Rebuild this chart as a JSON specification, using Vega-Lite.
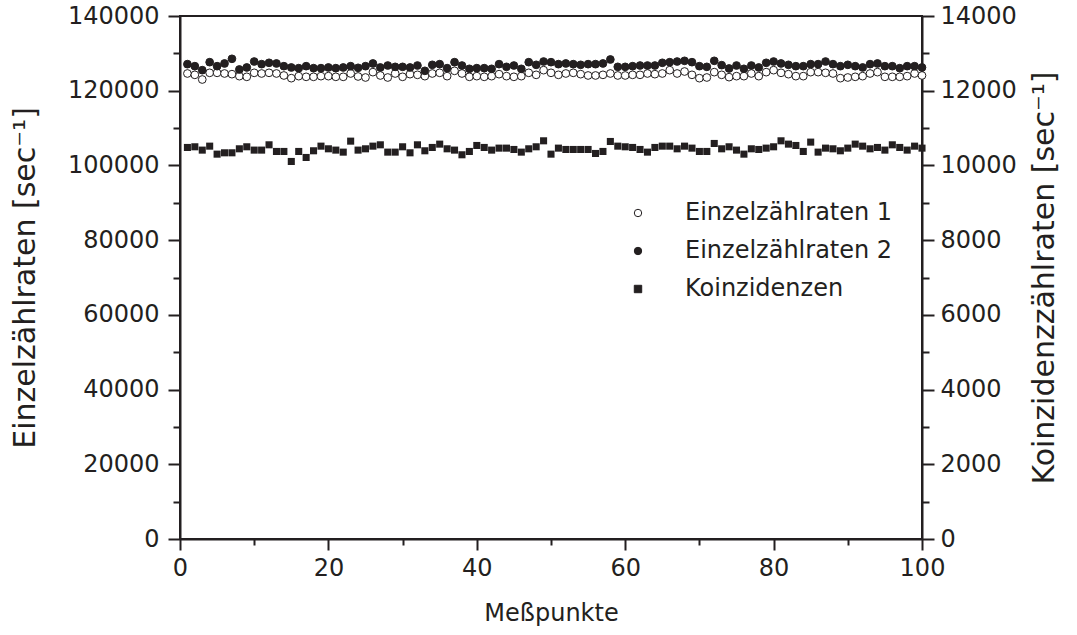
{
  "$schema": "https://vega.github.io/schema/vega-lite/v6.json",
  "width": 742,
  "height": 523,
  "autosize": "none",
  "padding": {"left": 180, "top": 16, "right": 155, "bottom": 96},
  "background": "white",
  "config": {
    "font": "DejaVu Sans",
    "view": {"stroke": "#231f20", "strokeWidth": 2},
    "axis": {
      "grid": false,
      "domainColor": "#231f20",
      "domainWidth": 2,
      "tickColor": "#231f20",
      "tickWidth": 2,
      "labelFont": "DejaVu Sans",
      "labelFontSize": 24,
      "labelColor": "#231f20",
      "titleFont": "DejaVu Sans",
      "titleFontSize": 24,
      "titleFontWeight": "normal",
      "titleColor": "#231f20",
      "labelOverlap": false,
      "labelFlush": false
    },
    "legend": {
      "orient": "none",
      "legendX": 446,
      "legendY": 185,
      "padding": 0,
      "labelFont": "DejaVu Sans",
      "labelFontSize": 24,
      "labelColor": "#231f20",
      "labelLimit": 0,
      "symbolSize": 55,
      "symbolStrokeColor": "#231f20",
      "symbolStrokeWidth": 1,
      "rowPadding": 14,
      "labelOffset": 35
    }
  },
  "data": {
    "values": [
      {"i":1,"e1":124610,"e2":127110,"k":10481},
      {"i":2,"e1":124250,"e2":126570,"k":10499},
      {"i":3,"e1":123000,"e2":125500,"k":10410},
      {"i":4,"e1":124790,"e2":127640,"k":10516},
      {"i":5,"e1":124790,"e2":126570,"k":10302},
      {"i":6,"e1":124610,"e2":127290,"k":10338},
      {"i":7,"e1":124430,"e2":128540,"k":10338},
      {"i":8,"e1":123900,"e2":125680,"k":10445},
      {"i":9,"e1":123720,"e2":126220,"k":10499},
      {"i":10,"e1":124790,"e2":127820,"k":10410},
      {"i":11,"e1":124610,"e2":127110,"k":10410},
      {"i":12,"e1":124790,"e2":127470,"k":10552},
      {"i":13,"e1":124610,"e2":127290,"k":10374},
      {"i":14,"e1":124080,"e2":126570,"k":10374},
      {"i":15,"e1":123360,"e2":126220,"k":10106},
      {"i":16,"e1":123900,"e2":126040,"k":10374},
      {"i":17,"e1":123720,"e2":126570,"k":10213},
      {"i":18,"e1":123720,"e2":126040,"k":10392},
      {"i":19,"e1":123900,"e2":126040,"k":10516},
      {"i":20,"e1":123900,"e2":126220,"k":10445},
      {"i":21,"e1":123720,"e2":126040,"k":10410},
      {"i":22,"e1":123720,"e2":126220,"k":10356},
      {"i":23,"e1":124610,"e2":126570,"k":10650},
      {"i":24,"e1":123810,"e2":126130,"k":10410},
      {"i":25,"e1":123540,"e2":126570,"k":10445},
      {"i":26,"e1":124970,"e2":127290,"k":10516},
      {"i":27,"e1":124080,"e2":126220,"k":10552},
      {"i":28,"e1":123540,"e2":126750,"k":10356},
      {"i":29,"e1":124610,"e2":126390,"k":10356},
      {"i":30,"e1":123720,"e2":126390,"k":10499},
      {"i":31,"e1":124430,"e2":126220,"k":10338},
      {"i":32,"e1":124250,"e2":126750,"k":10552},
      {"i":33,"e1":123900,"e2":125320,"k":10392},
      {"i":34,"e1":124610,"e2":126930,"k":10481},
      {"i":35,"e1":124790,"e2":127110,"k":10570},
      {"i":36,"e1":123900,"e2":126040,"k":10445},
      {"i":37,"e1":125320,"e2":127640,"k":10410},
      {"i":38,"e1":124610,"e2":126750,"k":10285},
      {"i":39,"e1":123720,"e2":125860,"k":10374},
      {"i":40,"e1":123900,"e2":126040,"k":10534},
      {"i":41,"e1":123720,"e2":126040,"k":10481},
      {"i":42,"e1":123900,"e2":125860,"k":10410},
      {"i":43,"e1":124430,"e2":127110,"k":10463},
      {"i":44,"e1":123900,"e2":126390,"k":10463},
      {"i":45,"e1":123720,"e2":126750,"k":10427},
      {"i":46,"e1":123900,"e2":125860,"k":10356},
      {"i":47,"e1":124790,"e2":127640,"k":10445},
      {"i":48,"e1":124250,"e2":126930,"k":10499},
      {"i":49,"e1":125500,"e2":127820,"k":10659},
      {"i":50,"e1":124790,"e2":127640,"k":10302},
      {"i":51,"e1":124250,"e2":127110,"k":10463},
      {"i":52,"e1":124610,"e2":127290,"k":10427},
      {"i":53,"e1":124790,"e2":127110,"k":10427},
      {"i":54,"e1":124430,"e2":126930,"k":10427},
      {"i":55,"e1":124080,"e2":127110,"k":10427},
      {"i":56,"e1":124080,"e2":127110,"k":10320},
      {"i":57,"e1":124250,"e2":127290,"k":10374},
      {"i":58,"e1":124610,"e2":128360,"k":10641},
      {"i":59,"e1":124080,"e2":126390,"k":10516},
      {"i":60,"e1":124080,"e2":126390,"k":10499},
      {"i":61,"e1":124250,"e2":126570,"k":10481},
      {"i":62,"e1":124250,"e2":126750,"k":10427},
      {"i":63,"e1":124610,"e2":126750,"k":10356},
      {"i":64,"e1":124430,"e2":126750,"k":10481},
      {"i":65,"e1":124610,"e2":127470,"k":10516},
      {"i":66,"e1":125500,"e2":127640,"k":10516},
      {"i":67,"e1":124610,"e2":127820,"k":10445},
      {"i":68,"e1":125140,"e2":128000,"k":10516},
      {"i":69,"e1":124250,"e2":127640,"k":10463},
      {"i":70,"e1":123360,"e2":126570,"k":10374},
      {"i":71,"e1":123540,"e2":126390,"k":10374},
      {"i":72,"e1":124970,"e2":128000,"k":10588},
      {"i":73,"e1":124250,"e2":126840,"k":10445},
      {"i":74,"e1":123630,"e2":125950,"k":10499},
      {"i":75,"e1":123900,"e2":126750,"k":10410},
      {"i":76,"e1":123900,"e2":125860,"k":10302},
      {"i":77,"e1":124610,"e2":126750,"k":10445},
      {"i":78,"e1":123900,"e2":126220,"k":10427},
      {"i":79,"e1":124970,"e2":127470,"k":10463},
      {"i":80,"e1":125500,"e2":127820,"k":10499},
      {"i":81,"e1":124790,"e2":127290,"k":10659},
      {"i":82,"e1":124430,"e2":126930,"k":10570},
      {"i":83,"e1":123900,"e2":126570,"k":10534},
      {"i":84,"e1":123900,"e2":126570,"k":10374},
      {"i":85,"e1":124970,"e2":127110,"k":10624},
      {"i":86,"e1":124970,"e2":127110,"k":10356},
      {"i":87,"e1":124790,"e2":127820,"k":10463},
      {"i":88,"e1":124610,"e2":127110,"k":10445},
      {"i":89,"e1":123360,"e2":126570,"k":10392},
      {"i":90,"e1":123540,"e2":126930,"k":10463},
      {"i":91,"e1":123720,"e2":126570,"k":10570},
      {"i":92,"e1":123900,"e2":126220,"k":10516},
      {"i":93,"e1":124610,"e2":127110,"k":10445},
      {"i":94,"e1":124970,"e2":127290,"k":10481},
      {"i":95,"e1":123720,"e2":126570,"k":10410},
      {"i":96,"e1":123720,"e2":126570,"k":10552},
      {"i":97,"e1":123720,"e2":126040,"k":10481},
      {"i":98,"e1":123900,"e2":126570,"k":10410},
      {"i":99,"e1":124610,"e2":126570,"k":10516},
      {"i":100,"e1":124080,"e2":126220,"k":10463}
    ]
  },
  "layer": [
    {
      "transform": [{"fold": ["e1", "e2"], "as": ["series", "value"]}],
      "mark": {"type": "point", "filled": true, "strokeWidth": 1, "size": 60, "opacity": 1},
      "encoding": {
        "x": {
          "field": "i", "type": "quantitative",
          "scale": {"domain": [0, 100], "nice": false, "zero": false},
          "axis": {
            "values": [0, 10, 20, 30, 40, 50, 60, 70, 80, 90, 100],
            "labelExpr": "datum.value % 20 == 0 ? datum.label : ''",
            "tickSize": {"condition": {"test": "datum.value % 20 == 0", "value": 11}, "value": 6},
            "labelPadding": 6,
            "title": "Meßpunkte",
            "titlePadding": 21
          }
        },
        "y": {
          "field": "value", "type": "quantitative",
          "scale": {"domain": [0, 140000], "nice": false},
          "axis": {
            "values": [0, 10000, 20000, 30000, 40000, 50000, 60000, 70000, 80000, 90000, 100000, 110000, 120000, 130000, 140000],
            "format": "d",
            "labelExpr": "datum.value % 20000 == 0 ? datum.label : ''",
            "tickSize": {"condition": {"test": "datum.value % 20000 == 0", "value": 12}, "value": 7},
            "labelPadding": 9,
            "title": "Einzelzählraten [sec⁻¹]",
            "titleFontSize": 30,
            "titlePadding": 27
          }
        },
        "shape": {
          "field": "series", "type": "nominal",
          "scale": {"domain": ["e1", "e2", "k"], "range": ["circle", "circle", "square"]},
          "legend": {"title": null, "labelExpr": "datum.label == 'e1' ? 'Einzelzählraten 1' : datum.label == 'e2' ? 'Einzelzählraten 2' : 'Koinzidenzen'"}
        },
        "fill": {
          "field": "series", "type": "nominal",
          "scale": {"domain": ["e1", "e2", "k"], "range": ["white", "#231f20", "#231f20"]},
          "legend": {"title": null, "labelExpr": "datum.label == 'e1' ? 'Einzelzählraten 1' : datum.label == 'e2' ? 'Einzelzählraten 2' : 'Koinzidenzen'"}
        },
        "stroke": {
          "field": "series", "type": "nominal",
          "scale": {"domain": ["e1", "e2", "k"], "range": ["#231f20", "#231f20", "#231f20"]},
          "legend": {"title": null, "labelExpr": "datum.label == 'e1' ? 'Einzelzählraten 1' : datum.label == 'e2' ? 'Einzelzählraten 2' : 'Koinzidenzen'"}
        }
      }
    },
    {
      "transform": [{"fold": ["k"], "as": ["series", "value"]}],
      "mark": {"type": "point", "filled": true, "size": 50, "opacity": 1, "strokeWidth": 0},
      "encoding": {
        "x": {"field": "i", "type": "quantitative", "scale": {"domain": [0, 100], "nice": false, "zero": false}},
        "y": {
          "field": "value", "type": "quantitative",
          "scale": {"domain": [0, 14000], "nice": false},
          "axis": {
            "orient": "right",
            "values": [0, 1000, 2000, 3000, 4000, 5000, 6000, 7000, 8000, 9000, 10000, 11000, 12000, 13000, 14000],
            "format": "d",
            "labelExpr": "datum.value % 2000 == 0 ? datum.label : ''",
            "tickSize": {"condition": {"test": "datum.value % 2000 == 0", "value": 12}, "value": 7},
            "labelPadding": 6,
            "title": "Koinzidenzzählraten [sec⁻¹]",
            "titleFontSize": 30,
            "titleAngle": 270,
            "titleBaseline": "top",
            "titlePadding": 13
          }
        },
        "shape": {
          "field": "series", "type": "nominal",
          "scale": {"domain": ["e1", "e2", "k"], "range": ["circle", "circle", "square"]},
          "legend": {"title": null, "labelExpr": "datum.label == 'e1' ? 'Einzelzählraten 1' : datum.label == 'e2' ? 'Einzelzählraten 2' : 'Koinzidenzen'"}
        },
        "fill": {
          "field": "series", "type": "nominal",
          "scale": {"domain": ["e1", "e2", "k"], "range": ["white", "#231f20", "#231f20"]},
          "legend": {"title": null, "labelExpr": "datum.label == 'e1' ? 'Einzelzählraten 1' : datum.label == 'e2' ? 'Einzelzählraten 2' : 'Koinzidenzen'"}
        }
      }
    }
  ],
  "resolve": {"scale": {"y": "independent"}}
}
